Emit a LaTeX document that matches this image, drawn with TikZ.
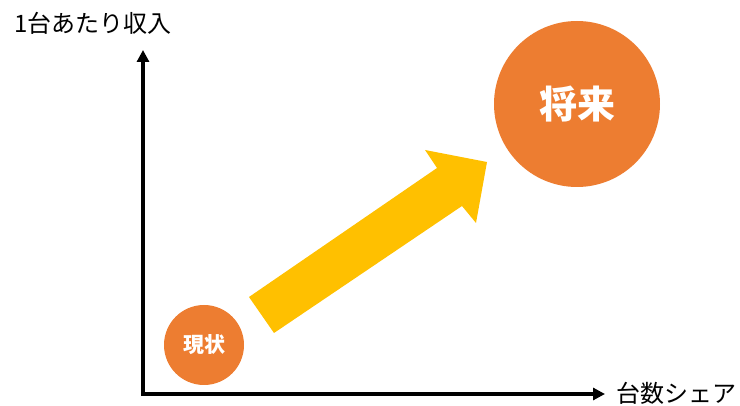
\documentclass[tikz,border=0pt]{standalone}
\usepackage{fontspec}
\newfontfamily\jpfont{Noto Sans CJK JP}
\usetikzlibrary{arrows.meta}
\definecolor{accentorange}{HTML}{ED7D31}
\definecolor{accentgold}{HTML}{FFC000}
\tikzset{
  axis/.style={line width=4pt, line join=miter,
    {Triangle[length=12pt,width=12pt]}-{Triangle[length=12pt,width=12pt]}},
  bubble/.style={circle, fill=accentorange, text=white, inner sep=0pt},
  axislabel/.style={font=\jpfont\fontsize{24}{28}\selectfont, inner sep=0pt}
}

\begin{document}
\begin{tikzpicture}[x=1pt,y=-1pt]
  \useasboundingbox (0,0) rectangle (740,406);
  % axes
  \coordinate (origin) at (143,394);
  \coordinate (ytop) at (143,50);
  \coordinate (xend) at (605,394);
  \draw[axis] (ytop) -- (origin) -- (xend);
  \node[axislabel, anchor=west] (ylabel) at (14,23) {1台あたり収入};
  \node[axislabel, anchor=west] (xlabel) at (616,393) {台数シェア};
  % growth arrow
  \fill[accentgold] (249,297) -- (437,168) -- (425,150) -- (487,162)
        -- (476,223) -- (462,206) -- (274,333) -- cycle;
  % bubbles
  \node[bubble, minimum size=80pt, font=\jpfont\bfseries\fontsize{21}{25}\selectfont] (now) at (204,345) {現状};
  \node[bubble, minimum size=166pt, font=\jpfont\bfseries\fontsize{38}{42}\selectfont] (future) at (577,104) {将来};
\end{tikzpicture}
\end{document}
